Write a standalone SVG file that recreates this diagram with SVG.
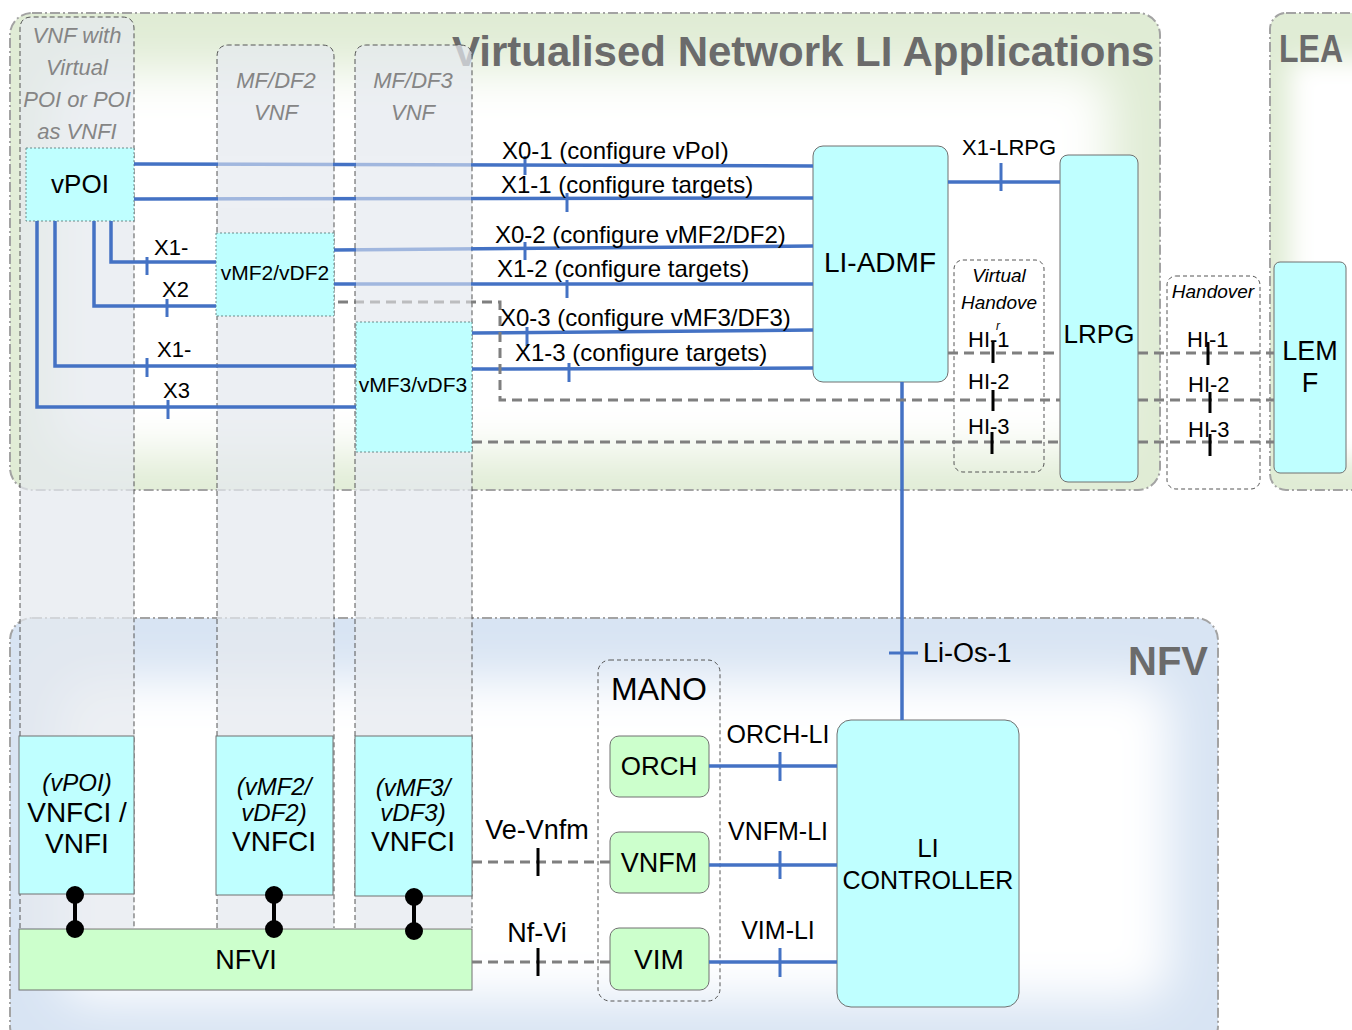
<svg xmlns="http://www.w3.org/2000/svg" width="1352" height="1030" viewBox="0 0 1352 1030">
<style>
text{font-family:"Liberation Sans",Arial,sans-serif;fill:#000}
.title{font-weight:bold;fill:#6b6b6b}
.colh{font-style:italic;fill:#858585;font-size:22px;text-anchor:middle}
.lbl{font-size:24px}
.c{text-anchor:middle}
.it{font-style:italic}
.cyan{fill:#bfffff;stroke:#707070;stroke-width:1}
.dotbox{fill:#bfffff;stroke:#6a8a8a;stroke-width:1;stroke-dasharray:2 2}
.green{fill:#ccffcc;stroke:#707070;stroke-width:1}
.col{fill:#e4e9ee;fill-opacity:.72;stroke:#555;stroke-width:1;stroke-dasharray:5 3}
.grp{fill:none;stroke:#555;stroke-width:1;stroke-dasharray:4 3}
.panelb{fill:none;stroke:#a3a3a3;stroke-width:2;stroke-dasharray:10 3 2 3}
.blue{stroke:#4472c4;stroke-width:3.5;fill:none}
.btick{stroke:#4472c4;stroke-width:3}
.dash{stroke:#7f7f7f;stroke-width:3;fill:none;stroke-dasharray:10 6}
.ktick{stroke:#000;stroke-width:3}
.haze{fill:#eef1f4;fill-opacity:.55}
</style>
<defs>
<filter id="soft" x="-30%" y="-30%" width="160%" height="160%"><feGaussianBlur stdDeviation="24"/></filter>
<filter id="soft2" x="-30%" y="-30%" width="160%" height="160%"><feGaussianBlur stdDeviation="12"/></filter>
<clipPath id="cpTop"><rect x="10" y="13" width="1150" height="477" rx="22"/></clipPath>
<clipPath id="cpNfv"><rect x="10" y="618" width="1208" height="430" rx="22"/></clipPath>
<clipPath id="cpLea"><rect x="1270" y="13" width="110" height="477" rx="16"/></clipPath>
</defs>
<rect width="1352" height="1030" fill="#fff"/>

<!-- panels -->
<g id="panel-vnla">
<g clip-path="url(#cpTop)">
<rect x="10" y="13" width="1150" height="477" fill="#e0ecd5"/>
<rect x="50" y="70" width="1060" height="385" rx="30" fill="#fff" filter="url(#soft)"/>
</g>
<rect class="panelb" x="10" y="13" width="1150" height="477" rx="22"/>
<text class="title" x="452" y="66" font-size="42">Virtualised Network LI Applications</text>
</g>
<g id="panel-lea">
<g clip-path="url(#cpLea)">
<rect x="1270" y="13" width="110" height="477" fill="#e0ecd5"/>
<rect x="1290" y="60" width="100" height="400" rx="10" fill="#fff" filter="url(#soft2)"/>
</g>
<rect class="panelb" x="1270" y="13" width="110" height="477" rx="16"/>
<text class="title" x="1279" y="62" font-size="38" textLength="64" lengthAdjust="spacingAndGlyphs">LEA</text>
</g>
<g id="panel-nfv">
<g clip-path="url(#cpNfv)">
<rect x="10" y="618" width="1208" height="430" fill="#d8e4f3"/>
<rect x="60" y="680" width="1110" height="320" rx="30" fill="#fff" filter="url(#soft)"/>
</g>
<rect class="panelb" x="10" y="618" width="1208" height="430" rx="22"/>
<text class="title" x="1128" y="675" font-size="40">NFV</text>
</g>

<!-- VNF columns -->
<g id="col-vpoi">
<path class="col" d="M20 928 V29 Q20 17 32 17 H122 Q134 17 134 29 V928"/>
<text class="colh" x="77" y="43">VNF with</text>
<text class="colh" x="77" y="75">Virtual</text>
<text class="colh" x="77" y="107">POI or POI</text>
<text class="colh" x="77" y="139">as VNFI</text>
</g>
<g id="col-mfdf2">
<path class="col" d="M217 928 V57 Q217 45 229 45 H322 Q334 45 334 57 V928"/>
<text class="colh" x="276" y="88" font-size="23">MF/DF2</text>
<text class="colh" x="276" y="120" font-size="23">VNF</text>
</g>
<g id="col-mfdf3">
<path class="col" d="M355 928 V57 Q355 45 367 45 H460 Q472 45 472 57 V928"/>
<text class="colh" x="413" y="88" font-size="23">MF/DF3</text>
<text class="colh" x="413" y="120" font-size="23">VNF</text>
</g>

<!-- nodes -->
<g id="vpoi">
<rect class="dotbox" x="26" y="148" width="108" height="73"/>
<text class="c" x="80" y="193" font-size="26">vPOI</text>
</g>
<g id="vmf2">
<rect class="dotbox" x="216" y="233" width="118" height="83"/>
<text class="c" x="275" y="280" font-size="21">vMF2/vDF2</text>
</g>
<g id="vmf3">
<rect class="dotbox" x="356" y="322" width="116" height="130"/>
<text class="c" x="413" y="392" font-size="21">vMF3/vDF3</text>
</g>
<g id="li-admf">
<rect class="cyan" x="813" y="146" width="135" height="236" rx="10"/>
<text class="c" x="880" y="272" font-size="28">LI-ADMF</text>
</g>
<g id="virtual-handover">
<rect class="grp" x="954" y="260" width="90" height="212" rx="9"/>
<text class="c it" x="999" y="282" font-size="19">Virtual</text>
<text class="c it" x="999" y="309" font-size="19">Handove</text>
</g>
<g id="lrpg">
<rect class="cyan" x="1060" y="155" width="78" height="327" rx="8"/>
<text class="c" x="1099" y="343" font-size="26">LRPG</text>
</g>
<g id="handover">
<rect class="grp" x="1167" y="276" width="93" height="213" rx="9"/>
<text class="c it" x="1213" y="298" font-size="19">Handover</text>
</g>
<g id="lemf">
<rect class="cyan" x="1274" y="262" width="72" height="211" rx="6"/>
<text class="c" x="1310" y="360" font-size="27">LEM</text>
<text class="c" x="1310" y="392" font-size="27">F</text>
</g>
<g id="vnfci-vpoi">
<rect class="cyan" x="19" y="736" width="115" height="158"/>
<text class="c it" x="77" y="791" font-size="24">(vPOI)</text>
<text class="c" x="77" y="822" font-size="28">VNFCI /</text>
<text class="c" x="77" y="853" font-size="28">VNFI</text>
</g>
<g id="vnfci-vmf2">
<rect class="cyan" x="216" y="736" width="117" height="159"/>
<text class="c it" x="274" y="795" font-size="24">(vMF2/</text>
<text class="c it" x="274" y="821" font-size="24">vDF2)</text>
<text class="c" x="274" y="851" font-size="28">VNFCI</text>
</g>
<g id="vnfci-vmf3">
<rect class="cyan" x="355" y="736" width="117" height="160"/>
<text class="c it" x="413" y="796" font-size="24">(vMF3/</text>
<text class="c it" x="413" y="821" font-size="24">vDF3)</text>
<text class="c" x="413" y="851" font-size="28">VNFCI</text>
</g>
<g id="nfvi">
<rect class="green" x="19" y="929" width="453" height="61"/>
<text class="c" x="246" y="969" font-size="27">NFVI</text>
</g>
<g id="mano">
<rect class="grp" x="598" y="660" width="122" height="341" rx="12"/>
<text class="c" x="659" y="700" font-size="32">MANO</text>
</g>
<g id="orch">
<rect class="green" x="610" y="736" width="99" height="61" rx="9"/>
<text class="c" x="659" y="775" font-size="26">ORCH</text>
</g>
<g id="vnfm">
<rect class="green" x="610" y="832" width="99" height="61" rx="9"/>
<text class="c" x="659" y="872" font-size="27">VNFM</text>
</g>
<g id="vim">
<rect class="green" x="610" y="928" width="99" height="62" rx="9"/>
<text class="c" x="659" y="969" font-size="28">VIM</text>
</g>
<g id="li-controller">
<rect class="cyan" x="837" y="720" width="182" height="287" rx="14"/>
<text class="c" x="928" y="857" font-size="26">LI</text>
<text class="c" x="928" y="889" font-size="25">CONTROLLER</text>
</g>

<!-- connectors -->
<g id="connectors">
<path class="blue" d="M134 164 L813 166"/>
<path class="blue" d="M134 199 L813 198"/>
<path class="blue" d="M334 250 L813 246"/>
<path class="blue" d="M334 284 L813 284"/>
<path class="blue" d="M472 333 L813 330"/>
<path class="blue" d="M472 369 L813 368"/>
<path class="blue" d="M948 182 H1060"/>
<path class="blue" d="M111 221 V262 H216"/>
<path class="blue" d="M94 221 V306 H216"/>
<path class="blue" d="M55 221 V366 H356"/>
<path class="blue" d="M37 221 V407 H356"/>
<path class="blue" d="M902 382 V720"/>
<path class="blue" d="M709 766 H837"/>
<path class="blue" d="M709 865 H837"/>
<path class="blue" d="M709 962 H837"/>
<line class="btick" x1="525" y1="156" x2="525" y2="175"/>
<line class="btick" x1="567" y1="193" x2="567" y2="212"/>
<line class="btick" x1="525" y1="242" x2="525" y2="260"/>
<line class="btick" x1="567" y1="280" x2="567" y2="298"/>
<line class="btick" x1="527" y1="327" x2="527" y2="346"/>
<line class="btick" x1="569" y1="363" x2="569" y2="382"/>
<line class="btick" x1="1001" y1="163" x2="1001" y2="191"/>
<line class="btick" x1="147" y1="257" x2="147" y2="275"/>
<line class="btick" x1="167" y1="299" x2="167" y2="317"/>
<line class="btick" x1="147" y1="358" x2="147" y2="377"/>
<line class="btick" x1="168" y1="400" x2="168" y2="419"/>
<line class="btick" x1="889" y1="653" x2="918" y2="653"/>
<line class="btick" x1="780" y1="752" x2="780" y2="781"/>
<line class="btick" x1="780" y1="851" x2="780" y2="879"/>
<line class="btick" x1="780" y1="948" x2="780" y2="977"/>
<path class="dash" d="M338 302 H500 V400 H1060"/>
<path class="dash" d="M1138 400 H1274"/>
<path class="dash" d="M472 442 H1060"/>
<path class="dash" d="M1138 442 H1274"/>
<path class="dash" d="M948 353 H1060"/>
<path class="dash" d="M1138 353 H1274"/>
<path class="dash" d="M472 862 H610"/>
<path class="dash" d="M472 962 H610"/>
<line class="ktick" x1="993" y1="341" x2="993" y2="363"/>
<line class="ktick" x1="993" y1="390" x2="993" y2="411"/>
<line class="ktick" x1="992" y1="432" x2="992" y2="454"/>
<line class="ktick" x1="1208" y1="342" x2="1208" y2="365"/>
<line class="ktick" x1="1210" y1="392" x2="1210" y2="413"/>
<line class="ktick" x1="1210" y1="434" x2="1210" y2="456"/>
<line class="ktick" x1="538" y1="848" x2="538" y2="876"/>
<line class="ktick" x1="538" y1="948" x2="538" y2="976"/>
<g stroke="#000" stroke-width="4" fill="#000">
<line x1="75" y1="895" x2="75" y2="929"/><circle cx="75" cy="895" r="7"/><circle cx="75" cy="929" r="7"/>
<line x1="274" y1="895" x2="274" y2="929"/><circle cx="274" cy="895" r="7"/><circle cx="274" cy="929" r="7"/>
<line x1="414" y1="897" x2="414" y2="931"/><circle cx="414" cy="897" r="7"/><circle cx="414" cy="931" r="7"/>
</g>
<rect class="haze" x="218" y="156" width="115" height="52"/>
<rect class="haze" x="356" y="156" width="115" height="154"/>
</g>

<!-- connector labels -->
<g id="connector-labels">
<text class="lbl" x="502" y="159">X0-1 (configure vPoI)</text>
<text class="lbl" x="501" y="193">X1-1 (configure targets)</text>
<text class="lbl" x="495" y="243">X0-2 (configure vMF2/DF2)</text>
<text class="lbl" x="497" y="277">X1-2 (configure targets)</text>
<text class="lbl" x="500" y="326">X0-3 (configure vMF3/DF3)</text>
<text class="lbl" x="515" y="361">X1-3 (configure targets)</text>
<text x="962" y="155" font-size="22">X1-LRPG</text>
<text x="154" y="255" font-size="22">X1-</text>
<text x="162" y="297" font-size="22">X2</text>
<text x="157" y="357" font-size="22">X1-</text>
<text x="163" y="398" font-size="22">X3</text>
<text x="923" y="662" font-size="27">Li-Os-1</text>
<text class="c" x="778" y="743" font-size="25">ORCH-LI</text>
<text class="c" x="778" y="840" font-size="25">VNFM-LI</text>
<text class="c" x="778" y="939" font-size="25">VIM-LI</text>
<text class="c" x="537" y="839" font-size="27">Ve-Vnfm</text>
<text class="c" x="537" y="942" font-size="27">Nf-Vi</text>
<text x="968" y="347" font-size="22">HI-1</text>
<text x="968" y="389" font-size="22">HI-2</text>
<text x="968" y="434" font-size="22">HI-3</text>
<text class="it" x="996" y="330" font-size="12">r</text>
<text x="1187" y="347" font-size="22">HI-1</text>
<text x="1188" y="392" font-size="22">HI-2</text>
<text x="1188" y="437" font-size="22">HI-3</text>
</g>
</svg>
